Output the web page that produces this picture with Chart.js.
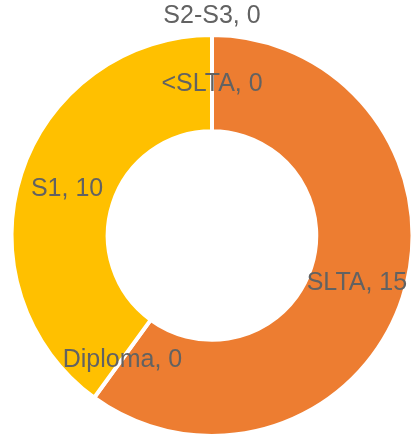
<!DOCTYPE html>
<html>
<head>
<meta charset="utf-8">
<script src="https://cdn.jsdelivr.net/npm/chart.js@4"></script>
<style>
  html, body { margin: 0; padding: 0; background: #fff; }
</style>
</head>
<body>
<canvas id="pendidikan" width="415" height="438"></canvas>
<script>
const categories = ["<SLTA", "SLTA", "Diploma", "S1", "S2-S3"];
const values = [0, 15, 0, 10, 0];
const colors = ["#4472C4", "#ED7D31", "#A5A5A5", "#FFC000", "#5B9BD5"];

// data labels "Name, value" placed at the arc centre, pushed outside when they collide
const sliceLabels = {
  id: "sliceLabels",
  afterDatasetsDraw(chart) {
    const ctx = chart.ctx;
    const meta = chart.getDatasetMeta(0);
    const placed = [];
    ctx.save();
    ctx.font = "25px 'Liberation Sans', Arial, sans-serif";
    ctx.fillStyle = "#626262";
    ctx.textAlign = "center";
    ctx.textBaseline = "middle";
    meta.data.forEach((arc, i) => {
      let p = arc.getCenterPoint();
      if (placed.some((q) => Math.abs(q.x - p.x) < 60 && Math.abs(q.y - p.y) < 25)) {
        const mid = (arc.startAngle + arc.endAngle) / 2;
        const r = arc.outerRadius + 20;
        p = { x: arc.x + Math.cos(mid) * r, y: arc.y + Math.sin(mid) * r };
      }
      placed.push(p);
      ctx.fillText(categories[i] + ", " + values[i], p.x, p.y + 1);
    });
    ctx.restore();
  },
};

new Chart(document.getElementById("pendidikan"), {
  type: "doughnut",
  data: {
    labels: categories,
    datasets: [
      {
        data: values,
        backgroundColor: colors,
        borderColor: "#ffffff",
        borderWidth: 4,
      },
    ],
  },
  options: {
    responsive: false,
    animation: false,
    cutout: "52%",
    layout: { padding: { left: 9, right: -2, top: 33, bottom: -3 } },
    plugins: {
      legend: { display: false },
      tooltip: { enabled: false },
    },
  },
  plugins: [sliceLabels],
});
</script>
</body>
</html>
